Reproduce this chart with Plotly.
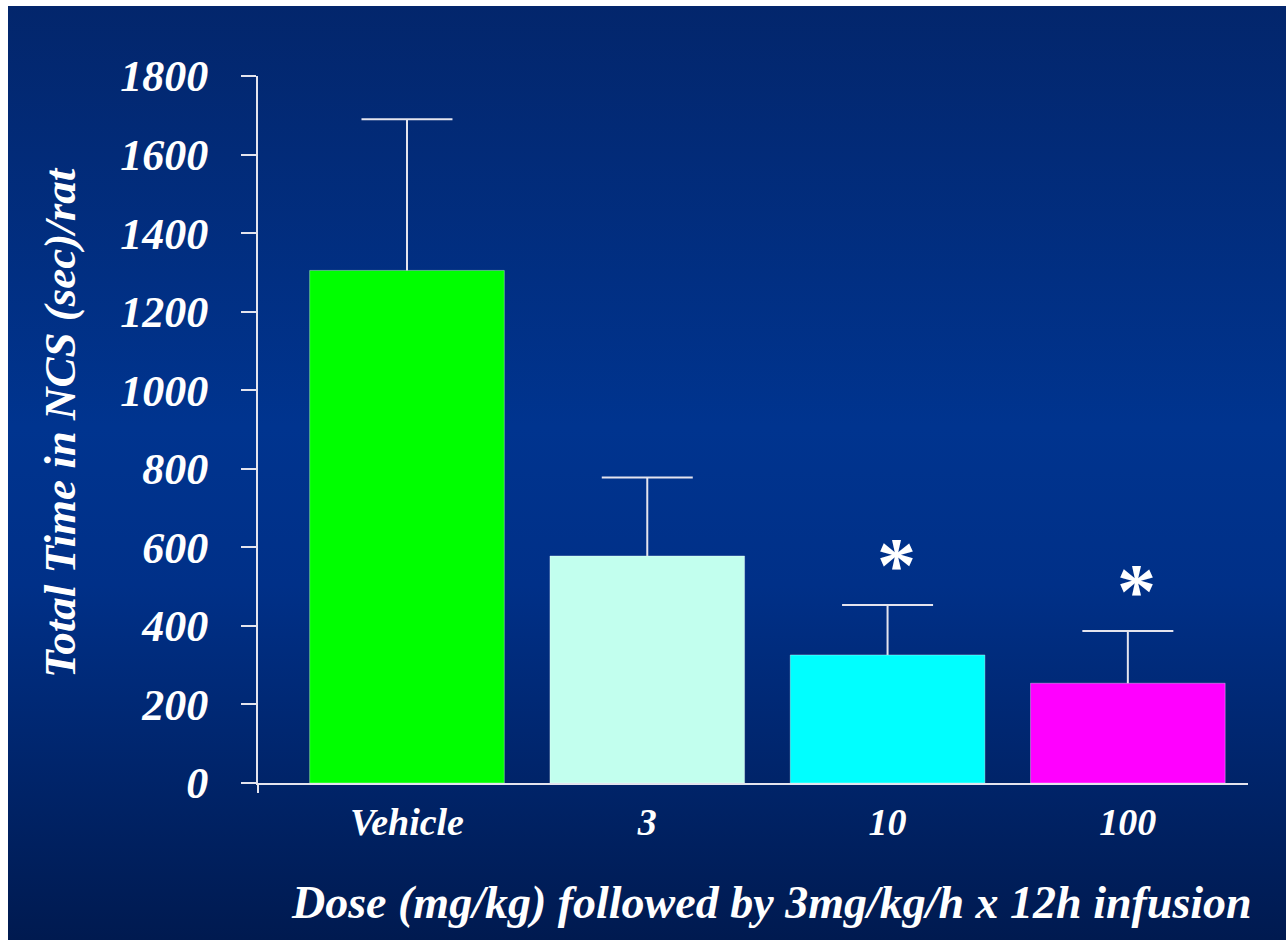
import base64
import plotly.graph_objects as go

# ---- data ----
categories = ["Vehicle", "3", "10", "100"]
mean_time = [1305, 578, 326, 254]
sem_time = [385, 200, 127, 133]
significant = [False, False, True, True]
bar_colors = ["#00FF00", "#C2FFEE", "#00FFFF", "#FF00FF"]
y_ticks = [0, 200, 400, 600, 800, 1000, 1200, 1400, 1600, 1800]

W, H = 1287, 940
L, R, T, B = 258, 39, 76, 157
PW, PH = W - L - R, H - T - B

FONT = "Liberation Serif, Times New Roman, serif"
TXT = "#FFFFFF"
AXC = "#E4E4EE"

x_idx = list(range(len(categories)))
err_top = [m + s for m, s in zip(mean_time, sem_time)]

fig = go.Figure()
fig.add_trace(go.Bar(
    x=x_idx, y=mean_time, width=0.81,
    marker=dict(color=bar_colors, line=dict(color="rgba(255,255,255,0.35)", width=1)),
    error_y=dict(type="data", array=sem_time, arrayminus=[0] * len(sem_time),
                 symmetric=False, color=AXC, thickness=2, width=0),
    showlegend=False, hoverinfo="x+y",
))
# caps of the error bars (top only)
fig.add_trace(go.Scatter(
    x=x_idx, y=err_top, mode="markers",
    marker=dict(symbol="line-ew-open", size=65, color=AXC, line=dict(color=AXC, width=2)),
    showlegend=False, hoverinfo="skip",
))

# background gradient as an SVG image
svg = ('<svg xmlns="http://www.w3.org/2000/svg" width="100" height="100" preserveAspectRatio="none">'
       '<defs><linearGradient id="g" x1="0" y1="0" x2="0" y2="1">'
       '<stop offset="0" stop-color="#03266c"/>'
       '<stop offset="0.45" stop-color="#00348f"/>'
       '<stop offset="0.62" stop-color="#003088"/>'
       '<stop offset="1" stop-color="#001a50"/>'
       '</linearGradient></defs><rect width="100" height="100" fill="url(#g)"/></svg>')
src = "data:image/svg+xml;base64," + base64.b64encode(svg.encode()).decode()
bg_left, bg_top = 8, 6
fig.add_layout_image(dict(
    source=src, xref="paper", yref="paper",
    x=(bg_left - L) / PW, y=(H - B - bg_top) / PH,
    sizex=(W - 1 - bg_left) / PW, sizey=(H - bg_top) / PH,
    xanchor="left", yanchor="top", sizing="stretch", layer="below",
))

# significance asterisks
for i, sig in enumerate(significant):
    if sig:
        fig.add_annotation(x=i, y=err_top[i], text="*",
                           showarrow=False, yanchor="middle", xanchor="center",
                           yshift=41, xshift=9,
                           font=dict(family=FONT, size=78, color=TXT, weight="bold"))

# axis titles
fig.add_annotation(text="Total Time in NCS (sec)/rat", textangle=-90,
                   xref="paper", yref="paper", x=(60 - L) / PW, y=(H - B - 423) / PH,
                   xanchor="center", yanchor="middle", showarrow=False,
                   font=dict(family=FONT, size=45, color=TXT, weight="bold", style="italic"))
fig.add_annotation(text="Dose (mg/kg) followed by 3mg/kg/h x 12h infusion",
                   xref="paper", yref="paper", x=(771 - L) / PW, y=(H - B - 902) / PH,
                   xanchor="center", yanchor="middle", showarrow=False,
                   font=dict(family=FONT, size=46, color=TXT, weight="bold", style="italic"))

# small extension of the y axis line below the x axis
fig.add_shape(type="line", xref="paper", yref="paper", x0=0, x1=0, y0=0, y1=-10 / PH,
              line=dict(color=AXC, width=2))

fig.update_xaxes(
    range=[-0.62, 3.5], tickmode="array", tickvals=x_idx, ticktext=categories,
    showline=True, linecolor=AXC, linewidth=2, ticks="", showgrid=False, zeroline=False,
    tickfont=dict(family=FONT, size=38, color=TXT, weight="bold", style="italic"),
    ticklabelstandoff=4,
)
fig.update_yaxes(
    range=[0, 1800], tickmode="array", tickvals=y_ticks,
    showline=True, linecolor=AXC, linewidth=2, ticks="outside", ticklen=15,
    tickwidth=2, tickcolor=AXC, showgrid=False, zeroline=False,
    tickfont=dict(family=FONT, size=44, color=TXT, weight="bold", style="italic"),
    ticklabelstandoff=24,
)
fig.update_layout(
    width=W, height=H, margin=dict(l=L, r=R, t=T, b=B, pad=0),
    paper_bgcolor="#FFFFFF", plot_bgcolor="rgba(0,0,0,0)",
)
fig.write_html("out.html", config={"displayModeBar": False},
               post_script="document.body.style.margin='0';document.body.style.overflow='hidden';")
